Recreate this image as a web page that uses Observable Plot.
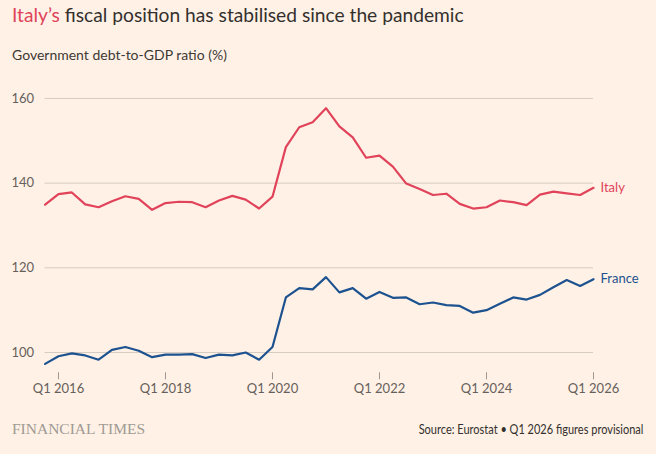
<!DOCTYPE html>
<html>
<head>
<meta charset="utf-8">
<script src="https://cdn.jsdelivr.net/npm/d3@7"></script>
<script src="https://cdn.jsdelivr.net/npm/@observablehq/plot@0.6"></script>
<style>
  html, body { margin: 0; padding: 0; }
  body { background: #fff1e5; width: 656px; height: 454px; position: relative; overflow: hidden;
         font-family: Lato, "Liberation Sans", sans-serif; color: #33302e; }
  #title { position: absolute; left: 12px; top: 3px; font-size: 19.2px; white-space: nowrap; color: #33302e; }
  #title span { color: #e0435a; }
  #subtitle { position: absolute; left: 12px; top: 46px; font-size: 14px; color: #3d3935; white-space: nowrap; }
  #chart { position: absolute; left: 0; top: 70px; }
  #logo { position: absolute; left: 12px; top: 420px; font-family: "Liberation Serif", "DejaVu Serif", serif;
          font-size: 15.5px; color: #a09a94; letter-spacing: 0px; white-space: nowrap; }
  #source { position: absolute; right: 13px; top: 422px; font-family: Lato, "Liberation Sans", sans-serif;
            font-size: 12.5px; color: #33302e; white-space: nowrap; transform: scaleX(0.88); transform-origin: right center; }
</style>
</head>
<body>
<div id="title"><span>Italy’s</span> fiscal position has stabilised since the pandemic</div>
<div id="subtitle">Government debt-to-GDP ratio (%)</div>
<div id="chart"></div>
<div id="logo">FINANCIAL TIMES</div>
<div id="source">Source: Eurostat • Q1 2026 figures provisional</div>
<script>
const quarters = [
  "2015Q4",
  "2016Q1","2016Q2","2016Q3","2016Q4",
  "2017Q1","2017Q2","2017Q3","2017Q4",
  "2018Q1","2018Q2","2018Q3","2018Q4",
  "2019Q1","2019Q2","2019Q3","2019Q4",
  "2020Q1","2020Q2","2020Q3","2020Q4",
  "2021Q1","2021Q2","2021Q3","2021Q4",
  "2022Q1","2022Q2","2022Q3","2022Q4",
  "2023Q1","2023Q2","2023Q3","2023Q4",
  "2024Q1","2024Q2","2024Q3","2024Q4",
  "2025Q1","2025Q2","2025Q3","2025Q4",
  "2026Q1"
];
const italy = [
  134.9,
  137.4,137.8,135.0,134.3,
  135.7,136.9,136.3,133.7,
  135.3,135.6,135.5,134.3,
  135.9,137.0,136.1,134.0,
  136.8,148.5,153.2,154.4,
  157.7,153.4,150.8,146.0,
  146.5,143.9,139.9,138.6,
  137.2,137.5,135.1,134.0,
  134.3,135.9,135.5,134.8,
  137.3,138.0,137.6,137.2,
  138.9
];
const france = [
  97.3,
  99.1,99.8,99.3,98.3,
  100.6,101.3,100.4,98.9,
  99.5,99.5,99.6,98.7,
  99.5,99.3,100.0,98.3,
  101.3,113.0,115.2,114.9,
  117.8,114.2,115.2,112.7,
  114.3,112.9,113.0,111.4,
  111.8,111.2,111.0,109.4,
  110.0,111.5,113.0,112.5,
  113.6,115.4,117.1,115.7,
  117.3
];
const seriesNames = ["Italy", "France"];
const seriesColors = ["#e0435a", "#1d5290"];
const xTicks = [2016, 2018, 2020, 2022, 2024, 2026];
const xTickLabels = ["Q1 2016", "Q1 2018", "Q1 2020", "Q1 2022", "Q1 2024", "Q1 2026"];
const yTicks = [100, 120, 140, 160];

const toNum = q => +q.slice(0, 4) + (+q.slice(5) - 1) / 4;
const rows = [];
[italy, france].forEach((vals, k) => {
  vals.forEach((v, i) => rows.push({ series: seriesNames[k], t: toNum(quarters[i]), v }));
});
const last = rows.filter(d => d.t === toNum(quarters[quarters.length - 1]));

const chart = Plot.plot({
  width: 656,
  height: 330,
  marginLeft: 44.6,
  marginRight: 63,
  marginTop: 19.5,
  marginBottom: 27.7,
  style: { background: "transparent", fontFamily: "Lato, 'Liberation Sans', sans-serif", fontSize: "13px", color: "#66605c" },
  x: { domain: [2015.75, 2026] },
  y: { domain: [95.2, 162] },
  color: { domain: seriesNames, range: seriesColors },
  marks: [
    Plot.gridY(yTicks, { stroke: "#d6cbc1", strokeOpacity: 1, strokeWidth: 1 }),
    Plot.axisY(yTicks, { tickSize: 0, tickPadding: 11, label: null, fontSize: 13, color: "#66605c" }),
    Plot.axisX(xTicks, { tickSize: 7, tickPadding: 4, label: null, fontSize: 13, stroke: "#9e958d",
      tickFormat: d => xTickLabels[xTicks.indexOf(d)] }),
    Plot.line(rows, { x: "t", y: "v", z: "series", stroke: "series", strokeWidth: 2.2, curve: "linear" }),
    Plot.text(last, { x: "t", y: "v", text: "series", fill: "series", textAnchor: "start", dx: 7, fontSize: 13 })
  ]
});
document.getElementById("chart").appendChild(chart);
</script>
</body>
</html>
